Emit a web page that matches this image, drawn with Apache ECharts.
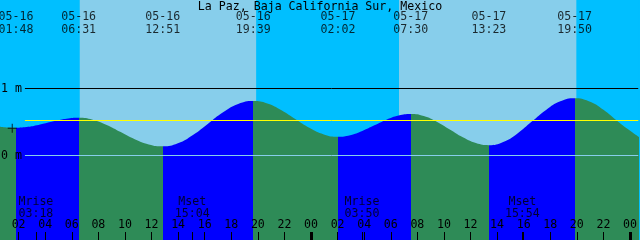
<!DOCTYPE html>
<html><head><meta charset="utf-8">
<script src="https://cdn.jsdelivr.net/npm/echarts@6/dist/echarts.min.js"></script>
<style>html,body{margin:0;padding:0;background:#00BFFF;overflow:hidden}#c{width:640px;height:240px}</style>
</head><body><div id="c"></div>
<script>
// ---- data (hours counted from 05-16 00:00) ----
const title = 'La Paz, Baja California Sur, Mexico';
const curveHours = [0.6, 1.2, 1.8,
  2.586, 3.372, 4.158, 4.945, 5.731, 6.517,
  7.572, 8.628, 9.683, 10.739, 11.794, 12.85,
  13.983, 15.117, 16.25, 17.383, 18.517, 19.65,
  20.714, 21.778, 22.842, 23.905, 24.969, 26.033,
  26.944, 27.855, 28.767, 29.678, 30.589, 31.5,
  32.481, 33.461, 34.442, 35.422, 36.403, 37.383,
  38.458, 39.533, 40.608, 41.683, 42.758, 43.833,
  44.9, 46.0, 47.0, 47.8, 48.75];
const curveHeights = [0.43, 0.418, 0.415,
  0.425, 0.452, 0.49, 0.527, 0.554, 0.564,
  0.535, 0.457, 0.351, 0.244, 0.166, 0.137,
  0.182, 0.306, 0.475, 0.644, 0.768, 0.813,
  0.777, 0.675, 0.54, 0.41, 0.315, 0.281,
  0.304, 0.366, 0.45, 0.535, 0.596, 0.619,
  0.588, 0.503, 0.387, 0.271, 0.186, 0.155,
  0.202, 0.33, 0.506, 0.681, 0.809, 0.856,
  0.811, 0.684, 0.522, 0.398, 0.265];
const extremaHours = [1.8, 6.517, 12.85, 19.65, 26.033, 31.5, 37.383, 43.833];
const extremaDates = ['05-16','05-16','05-16','05-16','05-17','05-17','05-17','05-17'];
const extremaTimes = ['01:48','06:31','12:51','19:39','02:02','07:30','13:23','19:50'];
const sunriseHours = [6.6, 30.62];
const sunsetHours = [19.89, 43.98];
const moonHours = [3.3, 15.067, 27.833, 39.9];
const moonEvents = ['Mrise','Mset','Mrise','Mset'];
const moonTimes = ['03:18','15:04','03:50','15:54'];
const hourTicks = [2,4,6,8,10,12,14,16,18,20,22,24,26,28,30,32,34,36,38,40,42,44,46,48];
const midnightTicks = [24, 48];
const levelValues = [1, 0.522, 0];
const levelLabels = ['1 m', '', '0 m'];
const markerHours = [1.52];
const markerHeights = [0.406];

// ---- layout / style ----
const xMin = 0.6, xMax = 48.62, yMin = -1.261, yMax = 2.321, lineStartHour = 2.475;
const NIGHT = '#00BFFF', DAY = '#87CEEB', RISE = '#0000FF', FALL = '#2E8B57';
const levelColors = ['#000000', '#FFFF00', '#87CEEB'];
const FONT = "'DejaVu Sans Mono', monospace";
const FS = 11.6;

const skyAreas = [];
let prev = xMin;
sunriseHours.forEach((sr, i) => {
  skyAreas.push([{xAxis: prev, itemStyle: {color: NIGHT}}, {xAxis: sr}]);
  skyAreas.push([{xAxis: sr, itemStyle: {color: DAY}}, {xAxis: sunsetHours[i]}]);
  prev = sunsetHours[i];
});
skyAreas.push([{xAxis: prev, itemStyle: {color: NIGHT}}, {xAxis: xMax}]);

// hard-edged gradient: falling (green) / rising (blue) between extrema
const x0 = curveHours[0], x1 = curveHours[curveHours.length - 1];
const stops = [{offset: 0, color: FALL}];
extremaHours.forEach((h, i) => {
  const off = (h - x0) / (x1 - x0);
  const before = i % 2 === 0 ? FALL : RISE;
  const after = i % 2 === 0 ? RISE : FALL;
  stops.push({offset: off, color: before}, {offset: off, color: after});
});
stops.push({offset: 1, color: FALL});
const tideFill = new echarts.graphic.LinearGradient(0, 0, 1, 0, stops, false);

const chart = echarts.init(document.getElementById('c'));
chart.setOption({
  animation: false,
  title: {text: title, left: 'center', top: 0, padding: [1, 0, 0, 0],
    textStyle: {fontFamily: FONT, fontSize: FS, fontWeight: 'normal', color: '#000', lineHeight: 12}},
  grid: {left: 0, right: 0, top: 0, bottom: 0},
  xAxis: [{
    type: 'value', min: xMin, max: xMax, z: 10, position: 'bottom',
    axisLine: {show: false, onZero: false}, splitLine: {show: false},
    axisTick: {inside: true, length: 8, lineStyle: {color: '#000', width: 1},
      customValues: hourTicks.concat(moonHours)},
    axisLabel: {inside: true, margin: 9, customValues: hourTicks, color: '#000',
      fontFamily: FONT, fontSize: FS,
      formatter: v => String(Math.round(v) % 24).padStart(2, '0')}
  }, {
    type: 'value', min: xMin, max: xMax, position: 'bottom', z: 10,
    axisLine: {show: false, onZero: false}, splitLine: {show: false},
    axisTick: {inside: true, length: 8, lineStyle: {color: '#000', width: 3},
      customValues: midnightTicks},
    axisLabel: {show: false}
  }],
  yAxis: {type: 'value', min: yMin, max: yMax, show: false},
  series: [{
    type: 'line', data: [], z: 1, silent: true,
    markArea: {silent: true, data: skyAreas}
  }, {
    type: 'line', z: 2, smooth: true, symbol: 'none', silent: true, clip: true,
    data: curveHours.map((h, i) => [h, curveHeights[i]]),
    lineStyle: {width: 0, color: FALL},
    areaStyle: {opacity: 1, origin: 'start', color: tideFill}
  }, {
    type: 'line', data: [], z: 3, silent: true,
    markLine: {silent: true, symbol: ['none', 'none'],
      data: levelValues.map((v, i) => [
        {coord: [lineStartHour, v], lineStyle: {color: levelColors[i], width: 1, type: 'solid'},
         label: {show: levelLabels[i] !== '', formatter: levelLabels[i], position: 'start', distance: 3,
                 color: '#000', fontFamily: FONT, fontSize: FS}},
        {coord: [xMax, v]}])}
  }, {
    type: 'scatter', z: 4, silent: true, clip: false, symbolSize: 0,
    data: extremaHours.map(h => [h, yMax]),
    label: {show: true, position: 'bottom', distance: 11, lineHeight: 12.5, color: '#000',
      fontFamily: FONT, fontSize: FS,
      formatter: p => extremaDates[p.dataIndex] + '\n' + extremaTimes[p.dataIndex]}
  }, {
    type: 'scatter', z: 4, silent: true, clip: false, symbolSize: 0,
    data: moonHours.map(h => [h, yMin]),
    label: {show: true, position: 'top', distance: 19.5, lineHeight: 12.5, color: '#000',
      fontFamily: FONT, fontSize: FS,
      formatter: p => moonEvents[p.dataIndex] + '\n' + moonTimes[p.dataIndex]}
  }, {
    type: 'scatter', z: 4, silent: true, clip: false,
    symbol: 'path://M4,0h1v9h-1zM0,4h9v1h-9z', symbolSize: [9, 9],
    itemStyle: {color: '#000'},
    data: markerHours.map((h, i) => [h, markerHeights[i]])
  }]
});
</script></body></html>
